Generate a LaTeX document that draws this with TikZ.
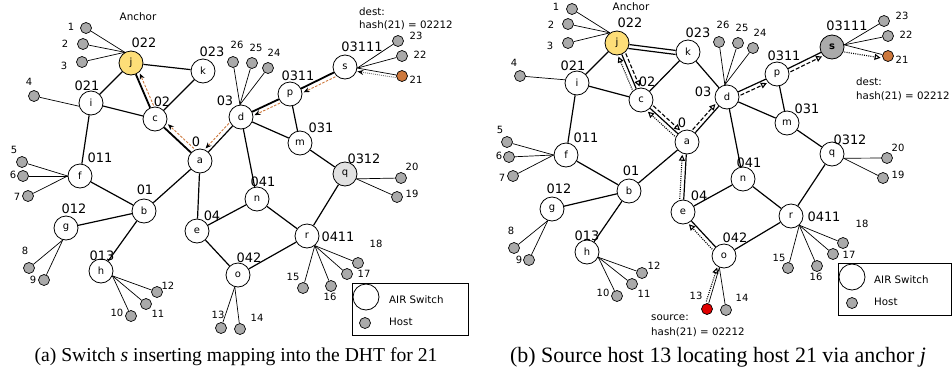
\documentclass[tikz,border=0pt]{standalone}
\usepackage{fontspec}
\setmainfont{Liberation Serif}
\newfontfamily\dvs{DejaVu Sans}
\usetikzlibrary{arrows.meta,calc}
\definecolor{hostgray}{RGB}{170,170,170}
\definecolor{anchory}{RGB}{253,222,120}
\definecolor{orng}{RGB}{205,120,60}
\definecolor{qgray}{RGB}{225,225,225}
\definecolor{redh}{RGB}{225,0,0}
\definecolor{dgray}{RGB}{120,120,120}
\newcommand{\parr}[6]{\draw[#1] ($(#2)!#5!(#3)!#4!90:(#3)$) -- ($(#3)!#6!(#2)!#4!-90:(#2)$);}
\begin{document}
\begin{tikzpicture}[x=1bp,y=-1bp,
 sw/.style={circle,draw,fill=white,minimum size=24bp,inner sep=0pt,line width=0.8bp,font=\dvs\fontsize{10}{10}\selectfont},
 host/.style={circle,draw,fill=hostgray,minimum size=11bp,inner sep=0pt,line width=0.7bp},
 slab/.style={inner sep=0pt,font=\dvs\fontsize{13}{13}\selectfont},
 hlab/.style={inner sep=0pt,font=\dvs\fontsize{10}{10}\selectfont},
 txt/.style={inner sep=0pt,anchor=west,font=\dvs\fontsize{10.3}{10.3}\selectfont},
 swedge/.style={line width=1.2bp},
 pedge/.style={line width=1.8bp},
 hedge/.style={line width=0.7bp},
 oarr/.style={draw=orng,line width=0.9bp,dash pattern=on 2.5bp off 1.5bp,-{Stealth[length=6bp,width=5bp,color=black]}},
 garr/.style={draw=dgray,line width=0.9bp,dash pattern=on 1bp off 1bp,-{Stealth[length=6bp,width=5bp,color=black]}},
 qarr/.style={line width=1.1bp,dash pattern=on 1bp off 1.2bp,-{Triangle[open,length=6bp,width=6bp]}},
 rarr/.style={line width=1.1bp,dash pattern=on 4bp off 2bp,-{Triangle[open,length=6bp,width=6bp]}},
 captxt/.style={inner sep=0pt,font=\fontsize{19.7}{20}\selectfont}
]
\useasboundingbox (0,0) rectangle (952,377);

% ================= LEFT PANEL =================
\foreach \nm/\x/\y/\col in {j/131/63/anchory,k/203/71/white,i/91/103/white,c/155/119/white,a/200/161/white,d/241/117/white,p/290/94/white,s/345/67/white,m/300/143/white,f/80/176/white,b/144/211/white,g/66/228/white,h/101/271/white,e/197/231/white,o/238/275/white,n/257/199/white,r/307/236/white,q/345/174/qgray}
  \node[sw,fill=\col] (L\nm) at (\x,\y) {\nm};

\foreach \u/\v in {j/i,j/k,i/c,i/f,k/c,a/d,a/b,a/e,f/b,b/g,b/h,e/n,e/o,n/d,n/r,o/r,d/m,p/m,m/q,q/r}
  \draw[swedge] (L\u) -- (L\v);
\foreach \u/\v in {j/c,c/a,d/p,p/s}
  \draw[pedge] (L\u) -- (L\v);

\foreach \k/\x/\y/\t in {1/144/43/022,2/212/52/023,3/87/86/021,4/162/102/02,5/225/101/03,6/196/142/0,7/100/158/011,8/145/190/01,9/74/209/012,10/102/256/013,11/212/216/04,12/249/258/042,13/263/182/041,14/338/237/0411,15/364/159/0312,16/321/128/031,17/298/76/0311,18/362/47/03111}
  \node[slab] (Ll\k) at (\x,\y) {\t};

\foreach \n/\x/\y/\lx/\ly/\s/\an/\col in {
 1/86/28/71/27/Lj/120/hostgray, 2/83/44/65/44/Lj/120/hostgray, 3/82/62/64/66/Lj/120/hostgray,
 4/34/96/29/82/Li/195/hostgray,
 5/22/162/14/150/Lf/180/hostgray, 6/23/176/13/175/Lf/180/hostgray, 7/28/196/17/197/Lf/180/hostgray,
 8/29/268/25/251/Lg/255/hostgray, 9/44/280/33/280/Lg/255/hostgray,
 10/131/316/117/313/Lh/337/hostgray, 11/146/304/158/314/Lh/337/hostgray, 12/157/292/168/286/Lh/337/hostgray,
 13/221/328/218/315/Lo/255/hostgray, 14/240/329/257/318/Lo/255/hostgray,
 15/303/288/293/277/Lr/309/hostgray, 16/331/286/330/297/Lr/309/hostgray, 17/347/274/364/274/Lr/309/hostgray, 18/358/263/376/244/Lr/309/hostgray,
 19/397/197/412/194/Lq/337/hostgray, 20/401/178/412/167/Lq/337/hostgray,
 21/402/76/416/80/Ls/355/orng, 22/402/56/420/55/Ls/355/hostgray, 23/398/41/416/36/Ls/355/hostgray,
 24/268/68/274/53/Ld/95/hostgray, 25/252/63/256/48/Ld/95/hostgray, 26/233/62/237/45/Ld/95/hostgray}
{
  \node[host,fill=\col] (Lh\n) at (\x,\y) {};
  \node[hlab] (Lt\n) at (\lx,\ly) {\n};
  \draw[hedge] (Lh\n) -- (\s.\an);
}

\parr{oarr}{Ls}{Lp}{4.5bp}{13bp}{13bp}
\parr{oarr}{Lp}{Ld}{4bp}{13bp}{13bp}
\parr{oarr}{Ld}{La}{-4.5bp}{13bp}{13bp}
\parr{oarr}{La}{Lc}{-5bp}{13bp}{13bp}
\parr{oarr}{Lc}{Lj}{-4bp}{13bp}{13bp}
\parr{garr}{Lh21}{Ls}{2.5bp}{6bp}{13bp}

\node[hlab,font=\dvs\fontsize{10.4}{10.4}\selectfont] (Lanchor) at (138,17) {Anchor};
\node[txt] (Ldest) at (359,12) {dest:};
\node[txt] (Lhash) at (359,25) {hash(21) = 02212};

\draw[line width=0.8bp] (352,283) rectangle (468,335);
\node[sw,minimum size=26bp] (Llegsw) at (366,297) {};
\node[host] (Lleghost) at (365,323) {};
\node[txt] (Llegt1) at (389,300) {AIR Switch};
\node[txt] (Llegt2) at (389,322) {Host};

% ================= RIGHT PANEL =================
\foreach \nm/\x/\y/\col/\t in {j/617/43/anchory/j,k/688/52/white/k,i/577/83/white/i,c/641/100/white/c,a/687/142/white/a,d/727/97/white/d,p/777/74/white/p,s/832/47/hostgray/{\bfseries s},m/787/123/white/m,f/566/155/white/f,b/629/191/white/b,g/552/209/white/g,h/587/252/white/h,e/683/212/white/e,o/724/256/white/o,n/743/179/white/n,r/791/216/white/r,q/832/154/white/q}
  \node[sw,fill=\col] (R\nm) at (\x,\y) {\t};

\foreach \u/\v in {j/i,j/k,j/c,i/c,i/f,k/c,k/d,c/a,a/d,a/b,a/e,f/b,b/g,b/h,e/n,e/o,n/d,n/r,o/r,d/p,d/m,p/m,p/s,m/q,q/r}
  \draw[swedge] (R\u) -- (R\v);

\foreach \k/\x/\y/\t in {1/630/23/022,2/698/33/023,3/573/66/021,4/647/82/02,5/703/92/03,6/682/123/0,7/586/138/011,8/631/171/01,9/559/189/012,10/587/236/013,11/699/196/04,12/735/238/042,13/749/163/041,14/824/217/0411,15/850/140/0312,16/807/109/031,17/784/56/0311,18/847/26/03111}
  \node[slab] (Rl\k) at (\x,\y) {\t};

\foreach \n/\x/\y/\lx/\ly/\s/\an/\col in {
 1/572/9/556/7/Rj/125/hostgray, 2/568/24/551/25/Rj/125/hostgray, 3/568/43/550/46/Rj/125/hostgray,
 4/520/76/514/63/Ri/165/hostgray,
 5/507/142/500/130/Rf/180/hostgray, 6/509/157/499/156/Rf/180/hostgray, 7/513/176/502/178/Rf/180/hostgray,
 8/514/248/511/231/Rg/250/hostgray, 9/529/260/519/260/Rg/250/hostgray,
 10/617/296/603/293/Rh/335/hostgray, 11/632/284/644/294/Rh/335/hostgray, 12/642/273/654/266/Rh/335/hostgray,
 13/707/309/696/296/Ro/248/redh, 14/726/310/742/298/Ro/248/hostgray,
 15/788/268/779/258/Rr/312/hostgray, 16/817/266/816/277/Rr/312/hostgray, 17/833/254/849/255/Rr/312/hostgray, 18/843/243/862/224/Rr/312/hostgray,
 19/883/178/898/175/Rq/340/hostgray, 20/887/158/898/148/Rq/340/hostgray,
 21/888/56/902/60/Rs/10/orng, 22/888/36/906/35/Rs/10/hostgray, 23/884/21/902/16/Rs/10/hostgray,
 24/753/48/760/33/Rd/100/hostgray, 25/738/43/742/28/Rd/100/hostgray, 26/719/42/723/25/Rd/100/hostgray}
{
  \node[host,fill=\col] (Rh\n) at (\x,\y) {};
  \node[hlab] (Rt\n) at (\lx,\ly) {\n};
  \draw[hedge] (Rh\n) -- (\s.\an);
}

\parr{swedge}{Rj}{Rk}{-4bp}{12bp}{12bp}
\parr{qarr}{Rh13}{Ro}{3bp}{7bp}{13bp}
\parr{qarr}{Ro}{Re}{4bp}{13bp}{13bp}
\parr{qarr}{Re}{Ra}{4bp}{13bp}{13bp}
\parr{qarr}{Ra}{Rc}{4bp}{13bp}{13bp}
\parr{qarr}{Rc}{Rj}{4bp}{13bp}{13bp}
\parr{rarr}{Rj}{Rc}{4bp}{13bp}{13bp}
\parr{rarr}{Rc}{Ra}{4bp}{13bp}{13bp}
\parr{rarr}{Ra}{Rd}{4bp}{13bp}{13bp}
\parr{rarr}{Rd}{Rp}{-4bp}{13bp}{13bp}
\parr{rarr}{Rp}{Rs}{-4bp}{13bp}{13bp}
\parr{qarr}{Rs}{Rh21}{-3bp}{13bp}{7bp}

\node[hlab,font=\dvs\fontsize{10.4}{10.4}\selectfont] (Ranchor) at (631,7) {Anchor};
\node[txt] (Rdest) at (856,82) {dest:};
\node[txt] (Rhash) at (856,96) {hash(21) = 02212};
\node[txt] (Rsrc) at (651,318) {source:};
\node[txt] (Rshash) at (651,332) {hash(21) = 02212};

\draw[line width=0.8bp] (838,263) rectangle (951.4,315);
\node[sw,minimum size=26bp] (Rlegsw) at (852,277) {};
\node[host] (Rleghost) at (852,303) {};
\node[txt] (Rlegt1) at (874,280) {AIR Switch};
\node[txt] (Rlegt2) at (874,302) {Host};

% ================= CAPTIONS =================
\node[captxt] (capa) at (236,357) {(a) Switch \textit{s} inserting mapping into the DHT for 21};
\node[captxt,font=\fontsize{22}{22}\selectfont] (capb) at (718,357) {(b) Source host 13 locating host 21 via anchor \textit{j}};
\end{tikzpicture}
\end{document}
